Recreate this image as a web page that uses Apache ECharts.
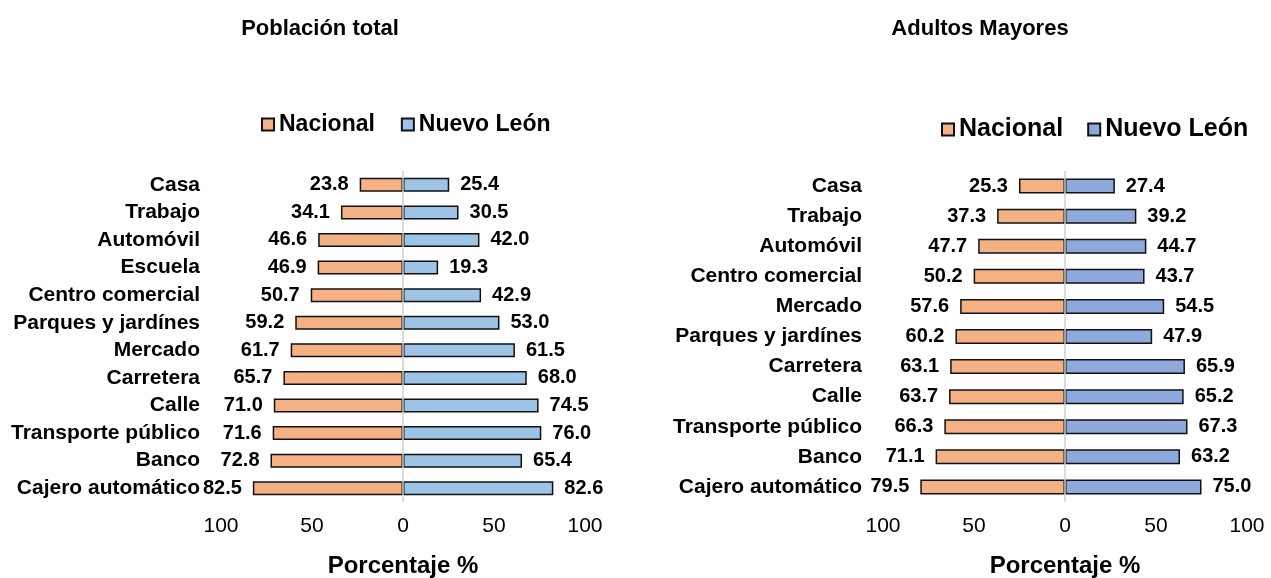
<!DOCTYPE html>
<html>
<head>
<meta charset="utf-8">
<script src="https://cdn.jsdelivr.net/npm/echarts@6/dist/echarts.min.js"></script>
<style>
  html, body { margin: 0; padding: 0; background: #fff; }
  #main { width: 1271px; height: 578px; }
</style>
</head>
<body>
<div id="main"></div>
<script>
// categorias y valores (porcentaje)
var catTotal = ['Casa', 'Trabajo', 'Automóvil', 'Escuela', 'Centro comercial', 'Parques y jardínes',
  'Mercado', 'Carretera', 'Calle', 'Transporte público', 'Banco', 'Cajero automático'];
var nacionalTotal = [23.8, 34.1, 46.6, 46.9, 50.7, 59.2, 61.7, 65.7, 71.0, 71.6, 72.8, 82.5];
var nuevoLeonTotal = [25.4, 30.5, 42.0, 19.3, 42.9, 53.0, 61.5, 68.0, 74.5, 76.0, 65.4, 82.6];

var catMayores = ['Casa', 'Trabajo', 'Automóvil', 'Centro comercial', 'Mercado', 'Parques y jardínes',
  'Carretera', 'Calle', 'Transporte público', 'Banco', 'Cajero automático'];
var nacionalMayores = [25.3, 37.3, 47.7, 50.2, 57.6, 60.2, 63.1, 63.7, 66.3, 71.1, 79.5];
var nuevoLeonMayores = [27.4, 39.2, 44.7, 43.7, 54.5, 47.9, 65.9, 65.2, 67.3, 63.2, 75.0];

var FONT = 'Arial, "Liberation Sans", sans-serif';
var NAC = '#F4B183';
var NL1 = '#9DC3E6';
var NL2 = '#8EA9DB';

function neg(arr){
  return arr.map(function(v){ return -v; });
}

function fmt(p){
  return Math.abs(p.value).toFixed(1);
}

function xAxisFor(idx, gap){
  return {
    gridIndex: idx,
    type: 'value',
    min: -100, max: 100, interval: 50,
    axisLine: { show: false },
    axisTick: { show: false },
    splitLine: { show: false },
    axisLabel: {
      color: '#000', fontSize: 21, fontFamily: FONT, margin: 14,
      formatter: function(v){ return Math.abs(v); }
    },
    name: 'Porcentaje %',
    nameLocation: 'middle',
    nameGap: gap,
    nameTextStyle: { color: '#000', fontSize: 24, fontWeight: 'bold', fontFamily: FONT }
  };
}

function yAxisFor(idx, cats){
  return {
    gridIndex: idx,
    type: 'category',
    data: cats,
    inverse: true,
    axisLine: { show: false },
    axisTick: { show: false },
    axisLabel: { interval: 0, color: '#000', fontSize: 21, fontWeight: 'bold', fontFamily: FONT, margin: 21 }
  };
}

function barSeries(name, idx, data, color, pos, bw, line){
  var s = {
    name: name,
    type: 'bar',
    xAxisIndex: idx,
    yAxisIndex: idx,
    data: data,
    barWidth: bw,
    barGap: '-100%',
    itemStyle: { color: color, borderColor: '#111', borderWidth: 1.5 },
    label: {
      show: true, position: pos, distance: 11, formatter: fmt,
      color: '#000', fontSize: 20, fontWeight: 'bold', fontFamily: FONT
    }
  };
  if (line) {
    // linea vertical en cero
    s.markLine = {
      silent: true, symbol: 'none', label: { show: false },
      lineStyle: { color: '#cfcfcf', type: 'solid', width: 1.5 },
      data: [{ xAxis: 0 }]
    };
  }
  return s;
}

var chart = echarts.init(document.getElementById('main'));
chart.setOption({
  backgroundColor: '#fff',
  animation: false,
  title: [
    { text: 'Población total', left: 315, top: 13, textAlign: 'center',
      textStyle: { fontSize: 22, fontWeight: 'bold', color: '#000', fontFamily: FONT } },
    { text: 'Adultos Mayores', left: 975, top: 13, textAlign: 'center',
      textStyle: { fontSize: 22, fontWeight: 'bold', color: '#000', fontFamily: FONT } }
  ],
  legend: [
    { left: 256, top: 108, itemWidth: 12, itemHeight: 12, itemGap: 26, icon: 'rect',
      textStyle: { fontSize: 23, fontWeight: 'bold', color: '#000', fontFamily: FONT },
      data: [{ name: 'Nacional', itemStyle: { color: NAC } }, { name: 'Nuevo León', itemStyle: { color: NL1 } }] },
    { left: 936, top: 112, itemWidth: 12, itemHeight: 12, itemGap: 24, icon: 'rect',
      textStyle: { fontSize: 25, fontWeight: 'bold', color: '#000', fontFamily: FONT },
      data: [{ name: 'Nacional', itemStyle: { color: NAC } }, { name: 'Nuevo León', itemStyle: { color: NL2 } }] }
  ],
  grid: [
    { left: 221, width: 364, top: 171, height: 331, outerBoundsMode: 'none' },
    { left: 883, width: 364, top: 171, height: 331, outerBoundsMode: 'none' }
  ],
  xAxis: [xAxisFor(0, 52), xAxisFor(1, 52)],
  yAxis: [yAxisFor(0, catTotal), yAxisFor(1, catMayores)],
  series: [
    barSeries('Nacional', 0, neg(nacionalTotal), NAC, 'left', 14, false),
    barSeries('Nuevo León', 0, nuevoLeonTotal, NL1, 'right', 14, true),
    barSeries('Nacional', 1, neg(nacionalMayores), NAC, 'left', 15, false),
    barSeries('Nuevo León', 1, nuevoLeonMayores, NL2, 'right', 15, true)
  ]
});
</script>
</body>
</html>
